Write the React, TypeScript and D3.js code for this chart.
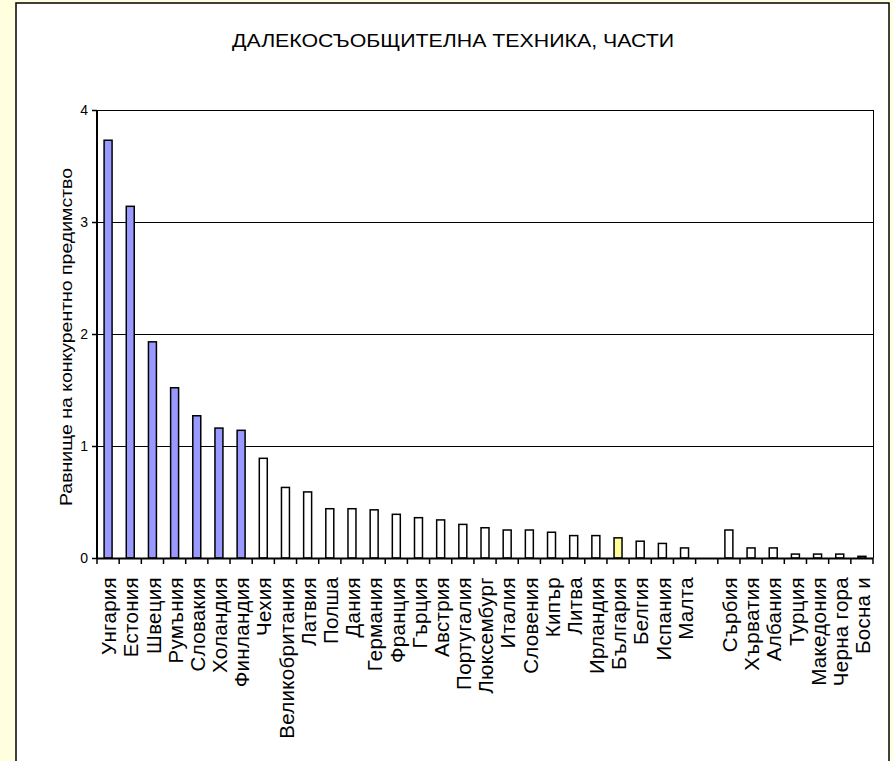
import React from "react";
import * as d3 from "d3";

const categories: string[] = [
  "Унгария", "Естония", "Швеция", "Румъния", "Словакия", "Холандия", "Финландия",
  "Чехия", "Великобритания", "Латвия", "Полша", "Дания", "Германия", "Франция",
  "Гърция", "Австрия", "Португалия", "Люксембург", "Италия", "Словения", "Кипър",
  "Литва", "Ирландия", "България", "Белгия", "Испания", "Малта", "",
  "Сърбия", "Хърватия", "Албания", "Турция", "Македония", "Черна гора", "Босна и",
];

const values: (number | null)[] = [
  3.73, 3.14, 1.93, 1.52, 1.27, 1.16, 1.14,
  0.89, 0.63, 0.59, 0.44, 0.44, 0.43, 0.39,
  0.36, 0.34, 0.30, 0.27, 0.25, 0.25, 0.23,
  0.20, 0.20, 0.18, 0.15, 0.13, 0.09, null,
  0.25, 0.09, 0.09, 0.035, 0.035, 0.035, 0.015,
];

// group: "top" = blue, "bg" = Bulgaria (yellow), "other" = white
const groups: string[] = [
  "top", "top", "top", "top", "top", "top", "top",
  "other", "other", "other", "other", "other", "other", "other",
  "other", "other", "other", "other", "other", "other", "other",
  "other", "other", "bg", "other", "other", "other", "other",
  "other", "other", "other", "other", "other", "other", "other",
];

const yTicks: number[] = [0, 1, 2, 3, 4];

const title = "ДАЛЕКОСЪОБЩИТЕЛНА ТЕХНИКА, ЧАСТИ";
const yLabel = "Равнище на конкурентно предимство";

const W = 893;
const H = 761;
const plot = { left: 97, right: 873, top: 110, bottom: 558 };
const FONT = "Arial, 'Liberation Sans', sans-serif";

const colorOf: Record<string, string> = {
  top: "#9999FF",
  bg: "#FFFF99",
  other: "#FFFFFF",
};

export default function App() {
  const keys = categories.map((_, i) => String(i));
  const x = d3.scaleBand<string>().domain(keys).range([plot.left, plot.right]).padding(0);
  const y = d3.scaleLinear().domain([0, 4]).range([plot.bottom, plot.top]);
  const bw = x.bandwidth() * 0.36;

  return (
    <svg
      width={W}
      height={H}
      style={{ position: "absolute", left: 0, top: 0, background: "#FFFFE0" }}
    >
      <rect x={16} y={3} width={873} height={H + 20} fill="#FFFFFF" stroke="#000" strokeWidth={1.5} />

      <text
        x={453}
        y={47}
        textAnchor="middle"
        fontFamily={FONT}
        fontSize={18}
        textLength={442}
        lengthAdjust="spacingAndGlyphs"
      >
        {title}
      </text>

      {/* gridlines */}
      {yTicks.map((t) => (
        <line key={"g" + t} x1={plot.left} x2={plot.right} y1={y(t) + 0.5} y2={y(t) + 0.5} stroke="#000" strokeWidth={1} shapeRendering="crispEdges" />
      ))}
      <line x1={plot.right + 0.5} x2={plot.right + 0.5} y1={plot.top} y2={plot.bottom} stroke="#000" strokeWidth={1} shapeRendering="crispEdges" />

      {/* bars */}
      {values.map((v, i) =>
        v == null ? null : (
          <rect
            key={"b" + i}
            x={(x(keys[i]) as number) + x.bandwidth() / 2 - bw / 2}
            y={y(v)}
            width={bw}
            height={y(0) - y(v)}
            fill={colorOf[groups[i]]}
            stroke="#000"
            strokeWidth={1.5}
          />
        )
      )}

      {/* y axis */}
      <line x1={plot.left} x2={plot.left} y1={plot.top} y2={plot.bottom + 1} stroke="#000" strokeWidth={2} />
      {yTicks.map((t) => (
        <g key={"yt" + t}>
          <line x1={plot.left - 5} x2={plot.left} y1={y(t) + 0.5} y2={y(t) + 0.5} stroke="#000" strokeWidth={1.5} />
          <text x={88} y={y(t)} dy="0.35em" textAnchor="end" fontFamily={FONT} fontSize={14}>
            {t}
          </text>
        </g>
      ))}

      {/* x axis */}
      <line x1={plot.left} x2={plot.right} y1={plot.bottom + 0.5} y2={plot.bottom + 0.5} stroke="#000" strokeWidth={2} />
      {keys.concat(["end"]).map((k, i) => {
        const xx = i < keys.length ? (x(k) as number) : plot.right;
        return (
          <line key={"xt" + i} x1={xx} x2={xx} y1={plot.bottom} y2={plot.bottom + 6} stroke="#000" strokeWidth={1.5} />
        );
      })}
      {categories.map((c, i) => {
        const cx = (x(keys[i]) as number) + x.bandwidth() / 2;
        return (
          <text
            key={"xl" + i}
            transform={`translate(${cx},${577}) rotate(-90)`}
            dy="0.4em"
            textAnchor="end"
            fontFamily={FONT}
            fontSize={20.5}
            letterSpacing={0.3}
          >
            {c}
          </text>
        );
      })}

      <text
        transform={`translate(66,337) rotate(-90)`}
        dy="0.35em"
        textAnchor="middle"
        fontFamily={FONT}
        fontSize={16}
        textLength={338}
        lengthAdjust="spacingAndGlyphs"
      >
        {yLabel}
      </text>
    </svg>
  );
}
